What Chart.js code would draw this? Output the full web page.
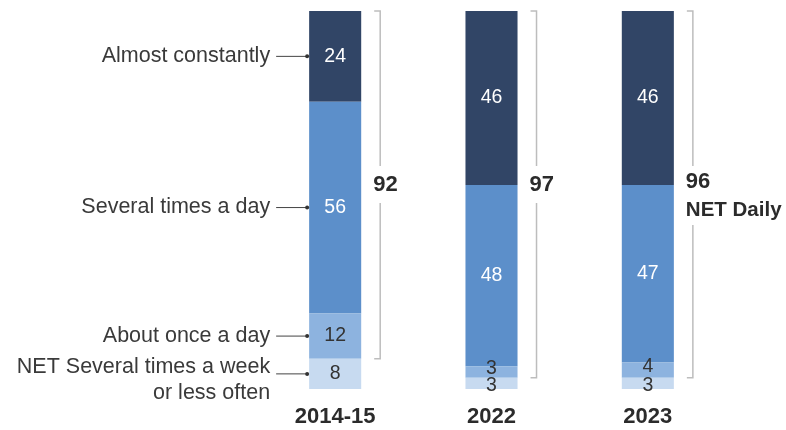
<!DOCTYPE html>
<html>
<head>
<meta charset="utf-8">
<script src="https://cdn.jsdelivr.net/npm/chart.js@4.4.1/dist/chart.umd.min.js"></script>
<style>
  html, body { margin: 0; padding: 0; background: #fff; }
  #wrap { width: 786px; height: 430px; position: relative; }
</style>
</head>
<body>
<div id="wrap"><canvas id="freqChart"></canvas></div>
<script>
// how often teens use the internet, by survey year (stack bottom -> top)
const years = ['2014-15', '2022', '2023'];
const lessOften = [8, 3, 3];
const onceADay = [12, 3, 4];
const severalTimes = [56, 48, 47];
const almostConstantly = [24, 46, 46];
const netDaily = [92, 97, 96];

const seriesNames = [
  ['NET Several times a week', 'or less often'],
  ['About once a day'],
  ['Several times a day'],
  ['Almost constantly']
];
const seriesColors = ['#c7daf0', '#8db3df', '#5c8fca', '#314566'];
const valueColors = ['#333333', '#333333', '#ffffff', '#ffffff'];

const FONT = '"Liberation Sans", Arial, sans-serif';

// labels inside bars, row labels on the left, NET brackets on the right
const annotations = {
  id: 'annotations',
  afterDatasetsDraw(chart) {
    const ctx = chart.ctx;
    const yScale = chart.scales.y;
    ctx.save();

    // values in each segment
    ctx.textAlign = 'center';
    ctx.textBaseline = 'middle';
    ctx.font = '19.5px ' + FONT;
    chart.data.datasets.forEach((ds, i) => {
      chart.getDatasetMeta(i).data.forEach((bar, j) => {
        const v = ds.data[j];
        let cy = (bar.y + bar.base) / 2;
        if (v < 5) cy += (i === 0 ? 2 : -3);
        ctx.fillStyle = valueColors[i];
        ctx.fillText(String(v), bar.x, cy);
      });
    });

    // row labels with leader lines, next to the first bar
    ctx.font = '21.5px ' + FONT;
    ctx.textAlign = 'right';
    seriesNames.forEach((lines, i) => {
      const bar = chart.getDatasetMeta(i).data[0];
      const left = bar.x - bar.width / 2;
      const cy = (bar.y + bar.base) / 2;
      ctx.strokeStyle = '#444';
      ctx.lineWidth = 1;
      ctx.beginPath();
      ctx.moveTo(left - 33, cy);
      ctx.lineTo(left - 2, cy);
      ctx.stroke();
      ctx.fillStyle = '#333';
      ctx.beginPath();
      ctx.arc(left - 2, cy, 2, 0, Math.PI * 2);
      ctx.fill();
      ctx.fillStyle = '#3a3a3a';
      if (lines.length === 1) {
        ctx.fillText(lines[0], left - 39, cy);
      } else {
        ctx.fillText(lines[0], left - 39, cy - 7);
        ctx.fillText(lines[1], left - 39, cy + 19);
      }
    });

    // NET daily brackets
    const labelY = yScale.getPixelForValue(54);
    years.forEach((yr, j) => {
      const topBar = chart.getDatasetMeta(3).data[j];
      const bottomBar = chart.getDatasetMeta(0).data[j];
      const bx = topBar.x + topBar.width / 2 + 19;
      const top = topBar.y;
      const bottom = bottomBar.y;
      const caption = j === years.length - 1;
      ctx.strokeStyle = '#bdbdbd';
      ctx.lineWidth = 1.5;
      ctx.beginPath();
      ctx.moveTo(bx - 6, top);
      ctx.lineTo(bx, top);
      ctx.lineTo(bx, labelY - 19);
      ctx.moveTo(bx, labelY + (caption ? 40 : 18));
      ctx.lineTo(bx, bottom);
      ctx.lineTo(bx - 6, bottom);
      ctx.stroke();

      ctx.fillStyle = '#2b2b2b';
      ctx.textAlign = 'left';
      ctx.font = 'bold 22px ' + FONT;
      ctx.fillText(String(netDaily[j]), bx - 7, labelY - (caption ? 3 : 0));
      if (caption) {
        ctx.font = 'bold 20.5px ' + FONT;
        ctx.fillText('NET Daily', bx - 7, labelY + 25);
      }
    });

    ctx.restore();
  }
};

const datasetValues = [lessOften, onceADay, severalTimes, almostConstantly];

new Chart(document.getElementById('freqChart'), {
  type: 'bar',
  data: {
    labels: years,
    datasets: datasetValues.map((vals, i) => ({
      label: seriesNames[i].join(' '),
      data: vals,
      backgroundColor: seriesColors[i],
      borderWidth: 0,
      categoryPercentage: 1,
      barPercentage: 0.333
    }))
  },
  options: {
    responsive: true,
    maintainAspectRatio: false,
    animation: false,
    layout: {
      padding: { left: 257, right: 60, top: 11, bottom: 0 }
    },
    plugins: {
      legend: { display: false },
      tooltip: { enabled: false }
    },
    scales: {
      x: {
        stacked: true,
        grid: { display: false, drawTicks: false },
        border: { display: false },
        ticks: {
          color: '#2b2b2b',
          padding: 15,
          maxRotation: 0,
          font: { family: FONT, size: 22, weight: 'bold' }
        },
        afterFit(scale) {
          scale.height = 41;
        }
      },
      y: {
        stacked: true,
        display: false,
        min: 0,
        max: 100
      }
    }
  },
  plugins: [annotations]
});
</script>
</body>
</html>
